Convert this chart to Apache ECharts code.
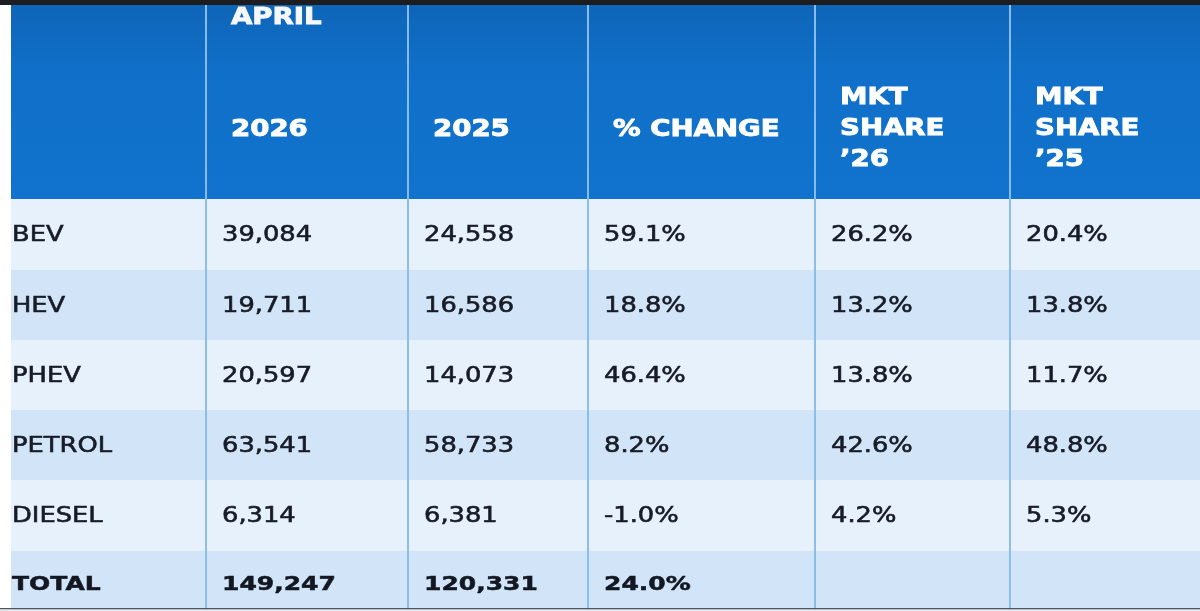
<!DOCTYPE html>
<html>
<head>
<meta charset="utf-8">
<script src="https://cdn.jsdelivr.net/npm/echarts@6/dist/echarts.min.js"></script>
<style>
  html, body { margin: 0; padding: 0; background: #ffffff; }
  #chart { width: 1200px; height: 611px; }
</style>
</head>
<body>
<div id="chart"></div>
<script>
// table data
const categories = ['BEV', 'HEV', 'PHEV', 'PETROL', 'DIESEL'];
const sales2026 = [39084, 19711, 20597, 63541, 6314];
const sales2025 = [24558, 16586, 14073, 58733, 6381];
const pctChange = [59.1, 18.8, 46.4, 8.2, -1.0];
const share2026 = [26.2, 13.2, 13.8, 42.6, 4.2];
const share2025 = [20.4, 13.8, 11.7, 48.8, 5.3];
const totalLabel = 'TOTAL';
const totals = [149247, 120331, 24.0];
const monthLabel = 'APRIL';
const headers = [[], ['2026'], ['2025'], ['% CHANGE'], ['MKT', 'SHARE', '\u201926'], ['MKT', 'SHARE', '\u201925']];

// layout (column / row edges in px, axes map 1:1 to the canvas)
const colEdges = [11, 206, 408, 588, 815, 1010, 1200];
const rowEdges = [5, 199, 270, 340, 410, 480, 551, 621];

const fmtNum = v => v.toLocaleString('en-US');
const fmtPct = v => v.toFixed(1) + '%';

// build cell text items: [col, row, text, kind, line, lines]
const textItems = [];
textItems.push([1, 0, monthLabel, 'month']);
headers.forEach((lines, c) => {
  lines.forEach((t, i) => textItems.push([c, 0, t, 'head', i, lines.length]));
});
categories.forEach((cat, i) => {
  const r = i + 1;
  textItems.push([0, r, cat, 'body']);
  textItems.push([1, r, fmtNum(sales2026[i]), 'body']);
  textItems.push([2, r, fmtNum(sales2025[i]), 'body']);
  textItems.push([3, r, fmtPct(pctChange[i]), 'body']);
  textItems.push([4, r, fmtPct(share2026[i]), 'body']);
  textItems.push([5, r, fmtPct(share2025[i]), 'body']);
});
const totalRow = categories.length + 1;
textItems.push([0, totalRow, totalLabel, 'total']);
textItems.push([1, totalRow, fmtNum(totals[0]), 'total']);
textItems.push([2, totalRow, fmtNum(totals[1]), 'total']);
textItems.push([3, totalRow, fmtPct(totals[2]), 'total']);

const rowIdx = rowEdges.slice(0, -1).map((_, i) => [i]);
const dividerIdx = colEdges.slice(1, -1).map((_, i) => [i + 1]);

const chart = echarts.init(document.getElementById('chart'));

const option = {
  animation: false,
  backgroundColor: '#ffffff',
  grid: { left: 0, right: 0, top: 0, bottom: 0 },
  xAxis: { type: 'value', min: 0, max: 1200, show: false },
  yAxis: { type: 'value', min: 0, max: 611, inverse: true, show: false },
  graphic: [
    { type: 'rect', shape: { x: 0, y: 0, width: 1200, height: 5 }, style: { fill: '#1d1d1f' }, z: 100 },
    { type: 'rect', shape: { x: 0, y: 608, width: 1200, height: 1.5 }, style: { fill: '#4b5563' }, z: 100 },
    { type: 'rect', shape: { x: 0, y: 609.5, width: 1200, height: 2 }, style: { fill: '#e6e7e9' }, z: 100 }
  ],
  series: [
    {
      // row backgrounds
      type: 'custom',
      z: 1,
      silent: true,
      data: rowIdx,
      renderItem: (params, api) => {
        const r = api.value(0);
        const p0 = api.coord([colEdges[0], rowEdges[r]]);
        const p1 = api.coord([colEdges[colEdges.length - 1], rowEdges[r + 1]]);
        let fill;
        if (r === 0) {
          fill = new echarts.graphic.LinearGradient(0, 0, 0, 1, [
            { offset: 0, color: '#0e65b8' },
            { offset: 0.35, color: '#1070c9' },
            { offset: 1, color: '#1173cd' }
          ]);
        } else {
          fill = r % 2 === 1 ? '#e6f1fc' : '#d2e5f8';
        }
        return {
          type: 'rect',
          shape: { x: p0[0], y: p0[1], width: p1[0] - p0[0], height: p1[1] - p0[1] },
          style: { fill }
        };
      }
    },
    {
      // column dividers
      type: 'custom',
      z: 2,
      silent: true,
      data: dividerIdx,
      renderItem: (params, api) => {
        const c = api.value(0);
        const top = api.coord([colEdges[c], rowEdges[0]]);
        const mid = api.coord([colEdges[c], rowEdges[1]]);
        const bot = api.coord([colEdges[c], rowEdges[rowEdges.length - 1]]);
        return {
          type: 'group',
          children: [
            { type: 'line', shape: { x1: top[0], y1: top[1], x2: mid[0], y2: mid[1] }, style: { stroke: '#86bbec', lineWidth: 2 } },
            { type: 'line', shape: { x1: mid[0], y1: mid[1], x2: bot[0], y2: bot[1] }, style: { stroke: '#8dbde9', lineWidth: 2 } }
          ]
        };
      }
    },
    {
      // cell texts
      type: 'custom',
      z: 3,
      silent: true,
      data: textItems,
      dimensions: ['col', 'row', 'text', 'kind', 'line', 'lines'],
      renderItem: (params, api) => {
        const [c, r, text, kind, line, lines] = textItems[params.dataIndex];
        let x, y, font, fill, sx, sw;
        if (kind === 'month') {
          x = colEdges[c] + 25; y = 18;
          font = 'bold 23px "DejaVu Sans"'; fill = '#f5f7fb'; sx = 1.2; sw = 0.9;
        } else if (kind === 'head') {
          x = colEdges[c] + 25;
          y = lines === 1 ? 130 : 98 + line * 31;
          font = 'bold 23px "DejaVu Sans"'; fill = '#ffffff'; sx = 1.2; sw = 0.9;
        } else if (kind === 'body') {
          x = colEdges[c] + (c === 0 ? 1 : 16);
          y = rowEdges[r] + 36.5;
          font = '22px "DejaVu Sans"'; fill = '#161b26'; sx = 1.17; sw = 0.6;
        } else {
          x = colEdges[c] + (c === 0 ? 1 : 16);
          y = rowEdges[r] + 34;
          font = 'bold 20px "DejaVu Sans"'; fill = '#121722'; sx = 1.25; sw = 0.5;
        }
        const p = api.coord([x, y]);
        return {
          type: 'text',
          x: p[0],
          y: p[1],
          scaleX: sx,
          style: {
            text, font, fill,
            stroke: fill, lineWidth: sw,
            textAlign: 'left', textVerticalAlign: 'middle', x: 0, y: 0
          }
        };
      }
    }
  ]
};

chart.setOption(option);
</script>
</body>
</html>
